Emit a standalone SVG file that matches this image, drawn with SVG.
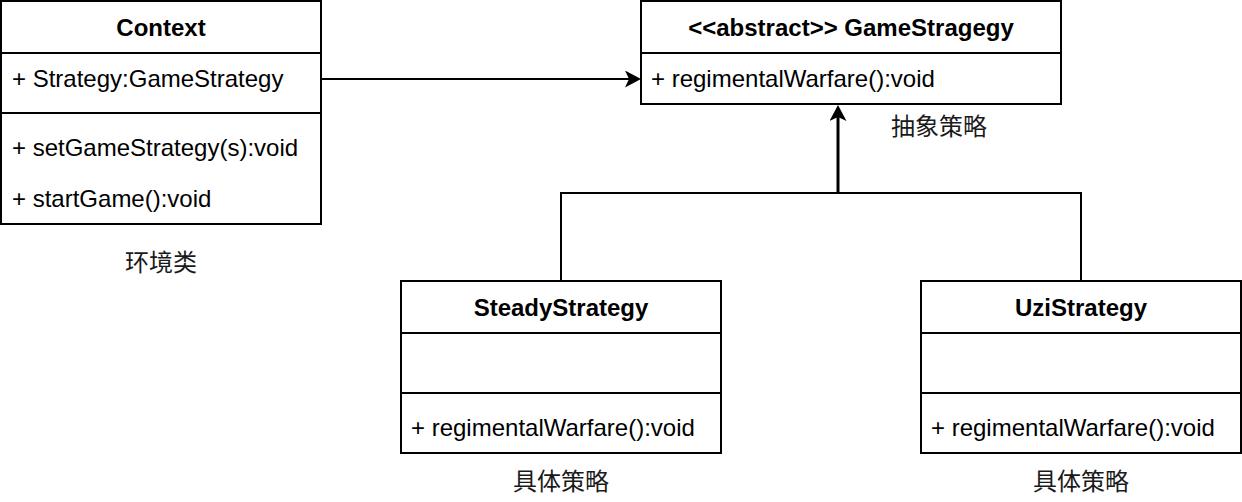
<svg xmlns="http://www.w3.org/2000/svg" width="1242" height="502" viewBox="0 0 1242 502">
<style>
.box{fill:#fff;stroke:#000;stroke-width:2}
.div{stroke:#000;stroke-width:2}
.t{font-family:"Liberation Sans",Arial,"Noto Sans CJK SC",sans-serif;font-size:24px;fill:#000}
.b{font-weight:bold;text-anchor:middle}
.lbl{font-family:"Liberation Sans","Noto Sans CJK SC",sans-serif;font-size:24px;fill:#1a1a1a;text-anchor:middle}
.edge{fill:none;stroke:#000;stroke-width:2}
</style>
<defs>
<marker id="arr" viewBox="0 0 16 17" refX="5" refY="8.5" markerWidth="16" markerHeight="17" markerUnits="userSpaceOnUse" orient="auto">
<path d="M0,0 L16,8.5 L0,17 L4,8.5 Z" fill="#000"/>
</marker>
</defs>
<rect width="1242" height="502" fill="#fff"/>
<g id="connectors">
<path class="edge" d="M321,79 L630,79" marker-end="url(#arr)"/>
<path class="edge" d="M561,281 L561,193 L1081,193 L1081,281"/>
<path class="edge" d="M838,193 L838,116" style="stroke-width:3" marker-end="url(#arr)"/>
</g>
<g id="context">
<rect class="box" x="1" y="1" width="320" height="223"/>
<line class="div" x1="1" y1="53" x2="321" y2="53"/>
<line class="div" x1="1" y1="113" x2="321" y2="113"/>
<text class="t b" x="161" y="36">Context</text>
<text class="t" x="12" y="87">+ Strategy:GameStrategy</text>
<text class="t" x="12" y="156">+ setGameStrategy(s):void</text>
<text class="t" x="12" y="207">+ startGame():void</text>
</g>
<g id="context-label"><text class="lbl" x="161" y="271">环境类</text></g>
<g id="gamestrategy">
<rect class="box" x="641" y="1" width="420" height="103"/>
<line class="div" x1="641" y1="53" x2="1061" y2="53"/>
<text class="t b" x="851" y="36">&lt;&lt;abstract&gt;&gt; GameStragegy</text>
<text class="t" x="651" y="87">+ regimentalWarfare():void</text>
</g>
<g id="abstract-label"><text class="lbl" x="939" y="135">抽象策略</text></g>
<g id="steady">
<rect class="box" x="401" y="281" width="320" height="172"/>
<line class="div" x1="401" y1="333" x2="721" y2="333"/>
<line class="div" x1="401" y1="393" x2="721" y2="393"/>
<text class="t b" x="561" y="316">SteadyStrategy</text>
<text class="t" x="411" y="436">+ regimentalWarfare():void</text>
</g>
<g id="steady-label"><text class="lbl" x="561" y="490">具体策略</text></g>
<g id="uzi">
<rect class="box" x="921" y="281" width="320" height="172"/>
<line class="div" x1="921" y1="333" x2="1241" y2="333"/>
<line class="div" x1="921" y1="393" x2="1241" y2="393"/>
<text class="t b" x="1081" y="316">UziStrategy</text>
<text class="t" x="931" y="436">+ regimentalWarfare():void</text>
</g>
<g id="uzi-label"><text class="lbl" x="1081" y="490">具体策略</text></g>
</svg>
